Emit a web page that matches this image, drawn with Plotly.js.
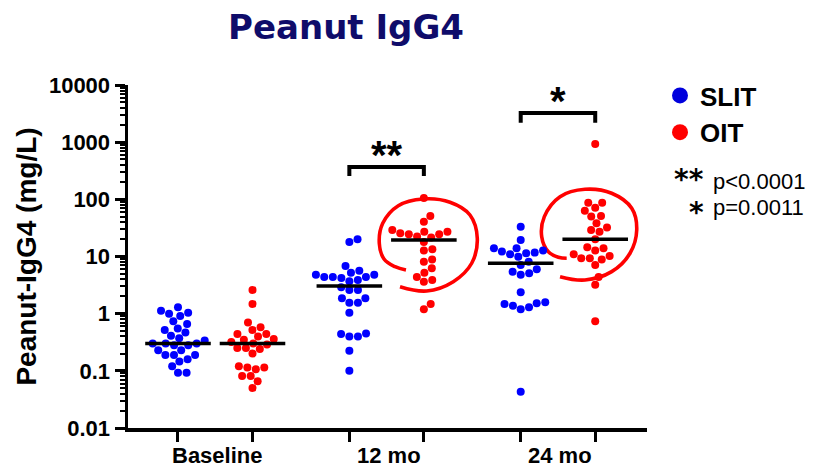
<!DOCTYPE html>
<html>
<head>
<meta charset="utf-8">
<script src="https://cdn.plot.ly/plotly-3.0.1.min.js"></script>
<style>
html,body{margin:0;padding:0;background:#ffffff;}
#chart{width:817px;height:469px;}
</style>
</head>
<body>
<div id="chart"></div>
<script>
// ---------------- DATA ----------------
const categories = ['Baseline', '12 mo', '24 mo'];
const seriesNames = ['SLIT', 'OIT'];
const seriesColors = ['#0000ff', '#ff0000'];

const slitBaseline = [1.3, 1.13, 1.04, 1.0, 0.91, 0.74, 0.66, 0.55, 0.52, 0.47, 0.41, 0.37, 0.34, 0.3, 0.3, 0.3, 0.28, 0.28, 0.23, 0.23, 0.19, 0.19, 0.19, 0.16, 0.145, 0.12, 0.093, 0.093];
const oitBaseline  = [2.6, 1.48, 0.70, 0.58, 0.52, 0.44, 0.44, 0.40, 0.36, 0.35, 0.32, 0.30, 0.29, 0.25, 0.25, 0.24, 0.20, 0.12, 0.114, 0.114, 0.107, 0.081, 0.081, 0.066, 0.05];
const slit12mo = [20, 18, 6.8, 5.65, 5.2, 4.8, 4.8, 4.4, 4.4, 4.4, 4.2, 3.9, 3.7, 2.9, 2.6, 2.6, 1.86, 1.86, 1.56, 1.56, 1.04, 0.45, 0.44, 0.40, 0.40, 0.225, 0.1];
const oit12mo  = [105, 51, 40.6, 29, 27, 27, 25.5, 24.5, 24.5, 22.3, 21.6, 18, 13.4, 12.7, 8.9, 8.1, 6.2, 5.2, 4.4, 3.9, 3.6, 1.48, 1.2];
const slit24mo = [33, 19.5, 13.9, 13.9, 12.7, 12.2, 11.7, 11.4, 11, 9.9, 8.1, 7.1, 6.0, 5.4, 5.1, 4.8, 2.37, 1.58, 1.52, 1.48, 1.38, 1.3, 1.19, 0.043];
const oit24mo  = [930, 87, 87, 71, 63, 51, 50, 38, 32, 29, 27, 20, 14.5, 13.9, 12.7, 11, 10.2, 9.3, 9.3, 8.9, 7.1, 4.4, 3.2, 0.74];

const slitMedians = [0.3, 3.05, 7.6];
const oitMedians  = [0.3, 19.5, 20];

const yTickVals = [0.01, 0.1, 1, 10, 100, 1000, 10000];
const yTickText = ['0.01', '0.1', '1', '10', '100', '1000', '10000'];

// significance brackets (12 mo, 24 mo): top and foot values in mg/L
const sigCategories = [1, 2];
const sigStars = ['**', '*'];
const sigPValues = ['p&lt;0.0001', 'p=0.0011'];
const bracketTop  = [368, 3240];
const bracketFoot = [257, 2190];

// hand-drawn loops around OIT 12 mo / 24 mo (offset from group, log10 value)
const loop12dx  = [-0.32, 0.038, 0.395, 0.642, 0.717, 0.619, 0.351, -0.007, -0.343, -0.552, -0.598, -0.535, -0.387, -0.240];
const loop12log = [0.472, 0.397, 0.560, 0.882, 1.319, 1.726, 1.949, 2.006, 1.889, 1.581, 1.231, 0.957, 0.822, 0.764];
const loop24dx  = [-0.472, -0.137, 0.221, 0.467, 0.557, 0.490, 0.221, -0.137, -0.472, -0.683, -0.718, -0.629, -0.495, -0.383];
const loop24log = [0.647, 0.589, 0.735, 1.057, 1.464, 1.844, 2.106, 2.176, 2.047, 1.697, 1.347, 1.084, 0.987, 0.969];

// ---------------- LAYOUT GEOMETRY ----------------
const W = 817, H = 469;
const M = {l: 128, r: 170, t: 85, b: 41};
const plotW = W - M.l - M.r, plotH = H - M.t - M.b;
const xRange = [-0.671, 6.295];
const yRangeLog = [-2, 4];
const pxPerX = plotW / (xRange[1] - xRange[0]);
const pxPerDec = plotH / (yRangeLog[1] - yRangeLog[0]);
const pairGap = 2.3;
function groupPos(cat, s) { return cat * pairGap + s; }
function pxX(px) { return (px - M.l) / plotW; }
function pxY(py) { return (H - M.b - py) / plotH; }
function valToPy(v) { return H - M.b - (Math.log10(v) - yRangeLog[0]) * pxPerDec; }

// beeswarm (computed from values)
function swarm(vals, center) {
  const D = 8.6;
  const pts = vals.map((v, i) => ({i: i, y: Math.log10(v) * pxPerDec, x: 0}));
  const order = pts.slice().sort((a, b) => a.y - b.y);
  const placed = [];
  order.forEach(p => {
    const cands = [0];
    placed.forEach(q => {
      const dy = Math.abs(q.y - p.y);
      if (dy < D) { const dx = Math.sqrt(D * D - dy * dy); cands.push(q.x + dx, q.x - dx); }
    });
    cands.sort((a, b) => Math.abs(a) - Math.abs(b));
    for (const c of cands) {
      if (placed.every(q => (q.x - c) * (q.x - c) + (q.y - p.y) * (q.y - p.y) >= D * D - 1e-6)) { p.x = c; break; }
    }
    placed.push(p);
  });
  const out = new Array(vals.length);
  pts.forEach(p => { out[p.i] = center + p.x / pxPerX; });
  return out;
}

const seriesData = [[slitBaseline, slit12mo, slit24mo], [oitBaseline, oit12mo, oit24mo]];
const seriesMedians = [slitMedians, oitMedians];

const traces = [];

// loops
[[loop12dx, loop12log, 1], [loop24dx, loop24log, 2]].forEach(([dx, lg, cat]) => {
  traces.push({
    x: dx.map(d => groupPos(cat, 1) + d),
    y: lg.map(l => Math.pow(10, l)),
    mode: 'lines', type: 'scatter', showlegend: false, hoverinfo: 'skip',
    line: {color: '#ff0000', width: 3.6, shape: 'spline', smoothing: 1.1}
  });
});

// dots
seriesData.forEach((groups, s) => {
  const xs = [], ys = [];
  groups.forEach((vals, cat) => {
    const sx = swarm(vals, groupPos(cat, s));
    vals.forEach((v, i) => { xs.push(sx[i]); ys.push(v); });
  });
  traces.push({
    x: xs, y: ys, mode: 'markers', type: 'scatter', name: seriesNames[s], showlegend: false,
    marker: {color: seriesColors[s], size: 8, line: {width: 0}}
  });
});

// medians
seriesMedians.forEach((meds, s) => {
  meds.forEach((m, cat) => {
    const c = groupPos(cat, s);
    traces.push({
      x: [c - 0.44, c + 0.44], y: [m, m], mode: 'lines', type: 'scatter',
      showlegend: false, hoverinfo: 'skip', line: {color: '#000000', width: 3.5}
    });
  });
});

// brackets
sigCategories.forEach((cat, k) => {
  const a = groupPos(cat, 0), b = groupPos(cat, 1);
  traces.push({
    x: [a, a, b, b], y: [bracketFoot[k], bracketTop[k], bracketTop[k], bracketFoot[k]],
    mode: 'lines', type: 'scatter', showlegend: false, hoverinfo: 'skip',
    line: {color: '#000000', width: 4}
  });
});

// legend entries
seriesNames.forEach((n, s) => {
  traces.push({
    x: [null], y: [null], mode: 'markers', type: 'scatter', name: n, showlegend: true,
    marker: {color: s === 0 ? '#0000dd' : '#ff0000', size: 17}
  });
});

const ARIAL = 'Liberation Sans, Arial, sans-serif';
const annotations = [];
categories.forEach((c, cat) => {
  annotations.push({
    text: c, x: groupPos(cat, 0.5) + 0.03, xref: 'x', y: pxY(455), yref: 'paper',
    xanchor: 'center', yanchor: 'middle', showarrow: false,
    font: {family: ARIAL, size: 22, weight: 'bold', color: '#000'}
  });
});
// stars above brackets (glyph sits ~7px above the text box centre)
sigCategories.forEach((cat, k) => {
  annotations.push({
    text: sigStars[k], x: groupPos(cat, 0.5), xref: 'x',
    y: pxY(valToPy(bracketTop[k]) - 19 + 7.5), yref: 'paper',
    xanchor: 'center', yanchor: 'middle', showarrow: false,
    font: {family: ARIAL, size: 40, weight: 'bold', color: '#000'}
  });
});
// p-value key: stars and p-text
const keyStarCenterY = [173, 206];
sigStars.forEach((st, k) => {
  annotations.push({
    text: st, x: pxX(706), xref: 'paper', y: pxY(keyStarCenterY[k] + 6.2), yref: 'paper',
    xanchor: 'right', yanchor: 'middle', showarrow: false,
    font: {family: 'DejaVu Sans, sans-serif', size: 28, weight: 'bold', color: '#000'}
  });
});
annotations.push({
  text: sigPValues.map(s => '<span style="font-size:22px">' + s + '</span>').join('<br>'),
  x: pxX(711), xref: 'paper', y: pxY(194), yref: 'paper',
  xanchor: 'left', yanchor: 'middle', align: 'left', showarrow: false,
  font: {family: ARIAL, size: 20, color: '#000'}
});

const layout = {
  width: W, height: H,
  margin: M,
  paper_bgcolor: '#ffffff', plot_bgcolor: '#ffffff',
  title: {
    text: 'Peanut IgG4', x: 346 / W, xref: 'container', xanchor: 'center',
    y: 1 - 27 / H, yref: 'container', yanchor: 'middle',
    font: {family: 'DejaVu Sans, sans-serif', size: 34, weight: 'bold', color: '#0f0c6a'}
  },
  xaxis: {
    range: xRange, showgrid: false, zeroline: false,
    showline: true, linecolor: '#000', linewidth: 3.5,
    tickmode: 'array', tickvals: [0, 1, 2, 3, 4, 5].map(i => groupPos(Math.floor(i / 2), i % 2)),
    showticklabels: false, ticks: 'outside', ticklen: 10, tickwidth: 3, tickcolor: '#000'
  },
  yaxis: {
    type: 'log', range: yRangeLog, showgrid: false, zeroline: false,
    showline: true, linecolor: '#000', linewidth: 3.5,
    tickmode: 'array', tickvals: yTickVals, ticktext: yTickText,
    ticks: 'outside', ticklen: 10, tickwidth: 3, tickcolor: '#000',
    tickfont: {family: ARIAL, size: 22, weight: 'bold', color: '#000'},
    minor: {dtick: 'D1', ticks: 'outside', ticklen: 5, tickwidth: 2, tickcolor: '#000', showgrid: false},
    title: {
      text: 'Peanut-IgG4 (mg/L)', standoff: 5,
      font: {family: ARIAL, size: 28, weight: 'bold', color: '#000'}
    }
  },
  showlegend: true,
  legend: {
    x: pxX(660), xanchor: 'left', y: pxY(72), yanchor: 'top',
    bgcolor: 'rgba(0,0,0,0)', borderwidth: 0,
    font: {family: ARIAL, size: 26, weight: 'bold', color: '#000'},
    itemsizing: 'trace'
  },
  annotations: annotations
};

Plotly.newPlot('chart', traces, layout, {staticPlot: true, displayModeBar: false});
</script>
</body>
</html>
